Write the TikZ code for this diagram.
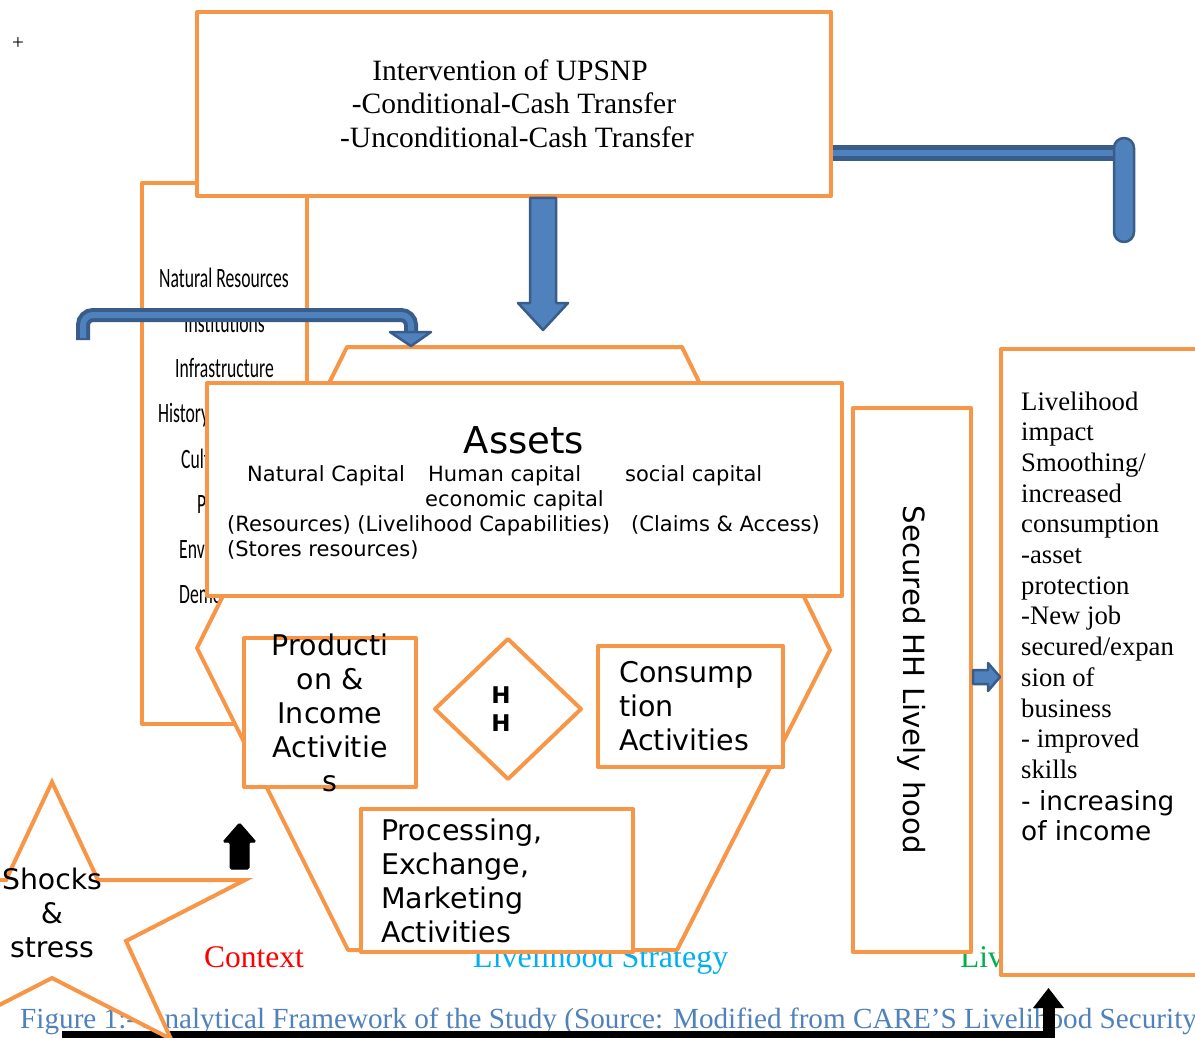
\documentclass[tikz,border=0pt]{standalone}
\usepackage{fontspec}
\usepackage{graphicx}
\setmainfont{Liberation Serif}
\newfontfamily\dejavu{DejaVu Sans}
\newfontfamily\carlito{Carlito}
\newcommand{\myfs}[1]{\fontsize{#1}{#1}\selectfont}
\definecolor{orng}{HTML}{F79646}
\definecolor{bfill}{HTML}{4F81BD}
\definecolor{bdark}{HTML}{385D8A}
\definecolor{capblue}{HTML}{4F81BD}
\definecolor{ctxred}{HTML}{FF0000}
\definecolor{lscyan}{HTML}{00B0F0}
\definecolor{logreen}{HTML}{00B050}
\begin{document}
\begin{tikzpicture}[x=1pt,y=-1pt,
  obox/.style={draw=orng, line width=4pt, fill=white, inner sep=0pt, line join=round},
  oline/.style={draw=orng, line width=4pt, line join=round},
  bshape/.style={fill=bfill, draw=bdark, line width=2.5pt, line join=round},
  tw/.style={inner sep=0pt, anchor=base west},
  tc/.style={inner sep=0pt, anchor=base},
  ctxtext/.style={tw, font=\carlito\myfs{28}}
]
\useasboundingbox (0,0) rectangle (1195,1038);
\clip (0,0) rectangle (1195,1038);
\fill[white] (0,0) rectangle (1195,1038);

\node[tc, font=\myfs{21}] (plus) at (18,50) {+};

% bottom column labels
\node[tw, text=ctxred, font=\myfs{31.5}] (lctx) at (204,967) {Context};
\node[tw, text=lscyan, font=\myfs{32}] (lstrat) at (473,967) {Livelihood Strategy};
\node[tw, text=logreen, font=\myfs{31.5}] (lout) at (960,967) {Livelihood};

% context box
\node[obox, minimum width=165pt, minimum height=541pt] (ctxbox) at (224.5,453.5) {};
\foreach \t/\xx/\yy [count=\i] in {Natural Resources/159/287, Institutions/184/332, Infrastructure/175/377, History/158/422, Culture/181/468, Politics/197/513, Enviro/179/558, Demography/179/603}
  \node[ctxtext] (ctx\i) at (\xx,\yy) {\scalebox{0.63}[1]{\t}};

% top box
\node[obox, minimum width=634pt, minimum height=184pt] (topbox) at (514,104) {};
\foreach \t/\xx/\yy [count=\i] in {Intervention of UPSNP/510/81, -Conditional-Cash Transfer/514/114, -Unconditional-Cash Transfer/517/148}
  \node[tc, font=\myfs{29.5}] (tt\i) at (\xx,\yy) {\t};

% blue arrow down from top box
\draw[bshape] (530,198) -- (530,303) -- (518,303) -- (543,330) -- (568,303) -- (556,303) -- (556,198) -- cycle;

% blue bar to the right
\draw[bdark, line width=16pt] (topbox.east |- 0,153) -- (1120,153);
\draw[bfill, line width=6pt] (topbox.east |- 0,153) -- (1120,153);
\draw[bshape, rounded corners=10pt] (1114,138) rectangle (1134,242);

% hexagon
\draw[oline, fill=white] (347,347) -- (682,347) -- (830,650) -- (677,950) -- (348,950) -- (197,648) -- cycle;

% assets box
\node[obox, minimum width=635pt, minimum height=213pt] (assets) at (524.5,489.5) {};
\node[tc, font=\dejavu\myfs{37}] (assetsT) at (524,453) {Assets};
\node[tw, font=\dejavu\myfs{21}] (a1) at (247,481) {Natural Capital};
\node[tw, font=\dejavu\myfs{21}] (a2) at (428,481) {Human capital};
\node[tw, font=\dejavu\myfs{21}] (a3) at (625,481) {social capital};
\node[tw, font=\dejavu\myfs{21}] (a4) at (425,506) {economic capital};
\node[tw, font=\dejavu\myfs{21}] (a5) at (227,531) {(Resources) (Livelihood Capabilities)};
\node[tw, font=\dejavu\myfs{21}] (a6) at (631,531) {(Claims \& Access)};
\node[tw, font=\dejavu\myfs{21}] (a7) at (227,556) {(Stores resources)};

% left bent blue arrow
\draw[bdark, line width=14pt, rounded corners=10pt] (83,340) -- (83,315) -- (411,315) -- (411,334);
\draw[bfill, line width=6pt, rounded corners=10pt] (83,338) -- (83,315) -- (411,315) -- (411,334);
\draw[bshape] (390,332) -- (411,346) -- (431,332) -- cycle;

% production box
\node[obox, minimum width=172pt, minimum height=149pt] (prod) at (330,712.5) {};
\foreach \t [count=\i] in {Producti, on \&, Income, Activitie, s}
  \node[tc, font=\dejavu\myfs{28.5}] (pt\i) at (330,{655+(\i-1)*34}) {\t};

% HH diamond
\draw[oline, fill=white] (508,639) -- (581,709) -- (508,779) -- (435,709) -- cycle;
\node[tc, font=\dejavu\bfseries\myfs{23}] (hh1) at (501,703) {H};
\node[tc, font=\dejavu\bfseries\myfs{23}] (hh2) at (501,731) {H};

% consumption box
\node[obox, minimum width=185pt, minimum height=121pt] (cons) at (690.5,706.5) {};
\foreach \t [count=\i] in {Consump, tion, Activities}
  \node[tw, font=\dejavu\myfs{28.5}] (ct\i) at (619,{682+(\i-1)*34}) {\t};

% processing box
\node[obox, minimum width=272pt, minimum height=143pt] (proc) at (497,880.5) {};
\foreach \t [count=\i] in {{Processing,}, {Exchange,}, Marketing, Activities}
  \node[tw, font=\dejavu\myfs{28.5}] (pr\i) at (381,{840+(\i-1)*34}) {\t};

% secured box
\node[obox, minimum width=118pt, minimum height=544pt] (sec) at (912,680) {};
\node[inner sep=0pt, rotate=-90, font=\dejavu\myfs{29.2}] (secT) at (912,680) {Secured HH Lively hood};

% impact box
\node[obox, minimum width=214pt, minimum height=626pt] (impact) at (1108,662) {};
\foreach \t [count=\i] in {Livelihood, impact, {Smoothing/}, increased, consumption, -asset, protection, -New job, {secured/expan}, sion of, business, - improved, skills}
  \node[tw, font=\myfs{26.7}] (im\i) at (1021,{410+(\i-1)*30.7}) {\t};
\node[tw, font=\dejavu\myfs{26.3}] (im14) at (1021,810) {- increasing};
\node[tw, font=\dejavu\myfs{26.3}] (im15) at (1021,840) {of income};

% small blue arrow between secured and impact
\draw[bshape] (973,670) -- (988,670) -- (988,663) -- (1000,677) -- (988,691) -- (988,684) -- (973,684) -- cycle;

% caption
\node[tw, text=capblue, font=\myfs{29.2}] (cap) at (20,1028) {Figure 1:- Analytical Framework of the Study (Source: Modified from CARE’S Livelihood Security};

% black small arrow
\draw[fill=black, draw=black, line width=1pt, rounded corners=1.5pt] (230,869) -- (230,842) -- (223,842) -- (239.5,823) -- (256,842) -- (249,842) -- (249,869) -- cycle;

% black bottom connector
\coordinate (bstart) at (62,1037);
\coordinate (bcorner) at (1048.5,1037);
\coordinate (bend) at (1048.5,1006);
\draw[black, line width=12pt] (bstart) -- (bcorner) -- (bend);
\fill[black] (1033,1008) -- (1048.5,988) -- (1064,1008) -- cycle;

% star
\draw[oline, fill=white, line join=miter] (52,782) -- (98,880) -- (245,880) -- (126,941) -- (171,1039) -- (52,978) -- (-67,1039) -- (-22,941) -- (-141,880) -- (6,880) -- cycle;
\foreach \t [count=\i] in {Shocks, \&, stress}
  \node[tc, font=\dejavu\myfs{28.3}] (sh\i) at (52,{889+(\i-1)*34}) {\t};
\end{tikzpicture}
\end{document}
